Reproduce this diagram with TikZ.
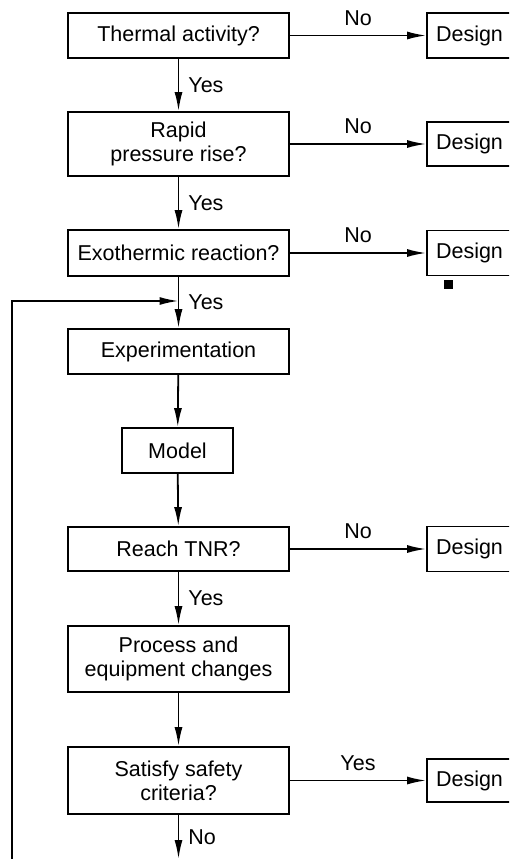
\documentclass[tikz,border=0pt]{standalone}
\usepackage{fontspec}
\setmainfont{Liberation Sans}
\usetikzlibrary{arrows.meta}

\begin{document}
\begin{tikzpicture}[
  x=1pt,y=-1pt,
  box/.style={draw, line width=1.8pt, align=center, minimum width=221pt, minimum height=45pt, font=\fontsize{21.5}{24}\selectfont, inner sep=0pt},
  result/.style={box, minimum width=85pt},
  lab/.style={font=\fontsize{21.5}{24}\selectfont, inner sep=9pt},
  arr/.style={-{Latex[length=19pt,width=8pt]}, line width=1.8pt}
]
\clip (0,0) rectangle (509,859);
% main chain
\node[box] (therm) at (178.5,35.5) {Thermal activity?};
\node[box, minimum height=64pt] (rapid) at (178.5,144) {Rapid\\pressure rise?};
\node[box, minimum height=46pt] (exo) at (178.5,253) {Exothermic reaction?};
\node[box] (expt) at (178.5,351.5) {Experimentation};
\node[box, minimum width=111pt] (model) at (177.5,450.5) {Model};
\node[box, minimum height=44pt] (tnr) at (178.5,549) {Reach TNR?};
\node[box, minimum height=66pt] (change) at (178.5,659) {Process and\\equipment changes};
\node[box, minimum height=67pt] (safe) at (178.5,780.5) {Satisfy safety\\criteria?};
% design outcomes
\node[result] (d1) at (469.5,35.5) {Design};
\node[result, minimum height=44pt] (d2) at (469.5,144) {Design};
\node[result] (d3) at (469.5,253) {Design};
\node[result] (d4) at (469.5,549) {Design};
\node[result, minimum height=43pt] (d5) at (469.5,780.5) {Design};
\fill (444,280) rectangle (453,289);
\coordinate (join) at (178.5,301);
\coordinate (exit) at (178.5,859);
\coordinate (back) at (12,859);
\foreach \q/\d in {therm/d1,rapid/d2,exo/d3,tnr/d4}{\draw[arr] (\q) -- node[lab,above]{No} (\d);}
\draw[arr] (safe) -- node[lab,above]{Yes} (d5);
\draw[arr] (therm) -- node[lab,right]{Yes} (rapid);
\draw[arr] (rapid) -- node[lab,right]{Yes} (exo);
\draw[arr] (exo) -- node[lab,right]{Yes} (expt);
\draw[arr] (expt) -- (model);
\draw[arr] (model) -- (tnr);
\draw[arr] (tnr) -- node[lab,right]{Yes} (change);
\draw[arr] (change) -- (safe);
\draw[arr] (safe) -- node[lab,right]{No} (exit);
% loop back
\draw[arr] (back) |- (join);
\end{tikzpicture}
\end{document}
